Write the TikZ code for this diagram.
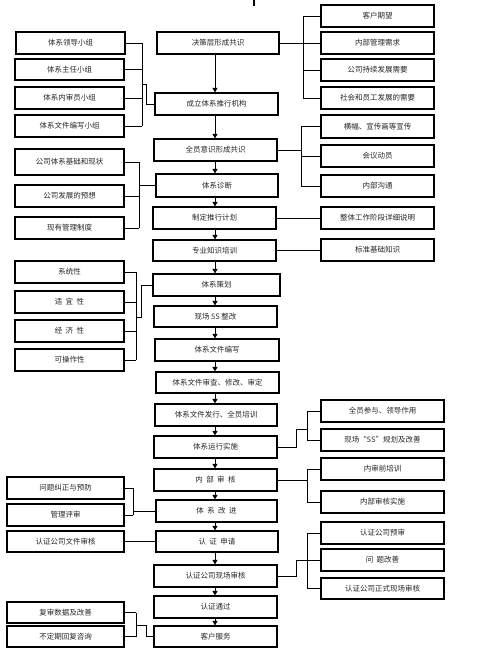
\documentclass[tikz,border=0pt]{standalone}
\usepackage{fontspec}
\setmainfont{Noto Sans CJK SC}
\usetikzlibrary{arrows.meta}
\newcommand{\bx}[6]{\node[boxst, minimum width={(#4-#2)*1pt}, minimum height={(#5-#3)*1pt}] (#1) at ({(#2+#4)/2},{(#3+#5)/2}) {#6};}
\begin{document}
\begin{tikzpicture}[x=1pt,y=-1pt,
  boxst/.style={draw, line width=1.2pt, inner sep=0pt, font=\fontsize{7.5}{8}\selectfont, text=black!85},
  ln/.style={line width=0.9pt},
  arr/.style={line width=0.9pt, -{Triangle[length=4.5pt,width=5pt]}}]
\useasboundingbox (0,0) rectangle (503,659);
\fill (253,0) rectangle (255,6);
% centre column
\bx{c1}{157}{32}{279}{54}{决策层形成共识}
\bx{c2}{155}{93}{278}{115}{成立体系推行机构}
\bx{c3}{154}{139}{277}{161}{全员意识形成共识}
\bx{c4}{156}{174}{278}{197}{体系诊断}
\bx{c5}{153}{207}{276}{229}{制定推行计划}
\bx{c6}{153}{240}{276}{261}{专业知识培训}
\bx{c7}{153}{274}{280}{296}{体系策划}
\bx{c8}{154}{306}{277}{327}{现场 5S 整改}
\bx{c9}{155}{339}{279}{361}{体系文件编写}
\bx{c10}{156}{372}{279}{393}{体系文件审查、修改、审定}
\bx{c11}{155}{404}{277}{426}{体系文件发行、全员培训}
\bx{c12}{154}{436}{277}{458}{体系运行实施}
\bx{c13}{154}{469}{277}{491}{内\ \ 部\ \ 审\ \ 核}
\bx{c14}{156}{500}{277}{522}{体\ \ 系\ \ 改\ \ 进}
\bx{c15}{156}{531}{278}{552}{认\ \ 证\ \ 申请}
\bx{c16}{154}{565}{277}{587}{认证公司现场审核}
\bx{c17}{154}{596}{277}{618}{认证通过}
\bx{c18}{154}{626}{277}{647}{客户服务}
% left
\bx{l1}{16}{32}{125}{54}{体系领导小组}
\bx{l2}{15}{59}{124}{80}{体系主任小组}
\bx{l3}{15}{87}{124}{109}{体系内审员小组}
\bx{l4}{15}{115}{124}{137}{体系文件编写小组}
\bx{l5}{15}{149}{124}{175}{公司体系基础和现状}
\bx{l6}{15}{185}{124}{207}{公司发展的预想}
\bx{l7}{15}{217}{124}{239}{现有管理制度}
\bx{l8}{15}{261}{124}{283}{系统性}
\bx{l9}{15}{291}{124}{313}{适\ \ 宜\ \ 性}
\bx{l10}{15}{320}{124}{342}{经\ \ 济\ \ 性}
\bx{l11}{15}{349}{124}{371}{可操作性}
\bx{l12}{7}{477}{124}{499}{问题纠正与预防}
\bx{l13}{7}{504}{124}{526}{管理评审}
\bx{l14}{7}{531}{124}{552}{认证公司文件审核}
\bx{l15}{7}{602}{124}{623}{复审数据及改善}
\bx{l16}{7}{626}{124}{647}{不定期回复咨询}
% right
\bx{r1}{321}{5}{434}{27}{客户期望}
\bx{r2}{321}{32}{434}{54}{内部管理需求}
\bx{r3}{321}{59}{434}{81}{公司持续发展需要}
\bx{r4}{321}{87}{434}{109}{社会和员工发展的需要}
\bx{r5}{321}{115}{434}{138}{横幅、宣传画等宣传}
\bx{r6}{321}{145}{434}{167}{会议动员}
\bx{r7}{321}{175}{434}{197}{内部沟通}
\bx{r8}{321}{207}{434}{229}{整体工作阶段详细说明}
\bx{r9}{321}{239}{434}{261}{标准基础知识}
\bx{r10}{321}{400}{444}{422}{全员参与、领导作用}
\bx{r11}{321}{429}{444}{451}{现场“5S”规划及改善}
\bx{r12}{321}{458}{444}{480}{内审前培训}
\bx{r13}{321}{491}{444}{513}{内部审核实施}
\bx{r14}{321}{522}{444}{544}{认证公司预审}
\bx{r15}{321}{549}{444}{571}{问\ \ 题改善}
\bx{r16}{321}{578}{444}{599}{认证公司正式现场审核}
% centre arrows
\coordinate (ax) at (215,0);
\foreach \a/\b in {c1/c2,c2/c3,c3/c4,c4/c5,c5/c6,c6/c7,c7/c8,c8/c9,c9/c10,c10/c11,c11/c12,c12/c13,c13/c14,c14/c15,c15/c16,c16/c17,c17/c18}
  \draw[arr] (\a.south -| ax) -- (\b.north -| ax);
% left group 1
\coordinate (b1) at (142,0);
\foreach \n in {l1,l2,l3,l4} \draw[ln] (\n.east) -- (\n.east -| b1);
\draw[ln] (l1.east -| b1) -- (l4.east -| b1);
\coordinate (k1) at (142,84);
\draw[ln] (k1) -- (146,84) |- (c2.west);
% left group 2
\coordinate (b2) at (139,0);
\foreach \n in {l5,l6,l7} \draw[ln] (\n.east) -- (\n.east -| b2);
\draw[ln] (l5.east -| b2) -- (l7.east -| b2);
\draw[ln] (c4.west -| b2) -- (c4.west);
% left group 3
\coordinate (b3) at (136,0);
\foreach \n in {l8,l9,l10,l11} \draw[ln] (\n.east) -- (\n.east -| b3);
\draw[ln] (l8.east -| b3) -- (l11.east -| b3);
\coordinate (k3) at (136,317);
\draw[ln] (k3) -- (141,317) |- (c7.west);
% left group 4
\coordinate (b4) at (133,0);
\foreach \n in {l12,l13} \draw[ln] (\n.east) -- (\n.east -| b4);
\draw[ln] (l12.east -| b4) -- (l13.east -| b4);
\draw[ln] (c14.west -| b4) -- (c14.west);
\draw[ln] (l14.east) -- (c15.west);
% left group 5
\coordinate (b5) at (136,0);
\foreach \n in {l15,l16} \draw[ln] (\n.east) -- (\n.east -| b5);
\draw[ln] (l15.east -| b5) -- (l16.east -| b5);
\coordinate (k5) at (136,625);
\draw[ln] (k5) -- (146,625) |- (c18.west);
% right group 1
\coordinate (rb1) at (303,0);
\draw[ln] (c1.east) -- (c1.east -| rb1);
\foreach \n in {r1,r2,r3,r4} \draw[ln] (\n.west) -- (\n.west -| rb1);
\draw[ln] (r1.west -| rb1) -- (r4.west -| rb1);
% right group 2
\coordinate (rb2) at (301,0);
\draw[ln] (c3.east) -- (c3.east -| rb2);
\foreach \n in {r5,r6,r7} \draw[ln] (\n.west) -- (\n.west -| rb2);
\draw[ln] (r5.west -| rb2) -- (r7.west -| rb2);
\draw[ln] (c5.east) -- (r8.west |- c5.east);
\draw[ln] (c6.east) -- (r9.west |- c6.east);
% right group 3
\coordinate (rb3) at (307,0);
\coordinate (k6) at (296,0);
\draw[ln] (c12.east) -- (c12.east -| k6) -- (296,429) -- (307,429);
\foreach \n in {r10,r11} \draw[ln] (\n.west) -- (\n.west -| rb3);
\draw[ln] (r10.west -| rb3) -- (r11.west -| rb3);
% right group 4
\draw[ln] (c13.east) -- (c13.east -| rb3);
\foreach \n in {r12,r13} \draw[ln] (\n.west) -- (\n.west -| rb3);
\draw[ln] (r12.west -| rb3) -- (r13.west -| rb3);
% right group 5
\draw[ln] (c16.east) -- (c16.east -| k6) |- (r15.west);
\foreach \n in {r14,r16} \draw[ln] (\n.west) -- (\n.west -| rb3);
\draw[ln] (r14.west -| rb3) -- (r16.west -| rb3);
\end{tikzpicture}
\end{document}
